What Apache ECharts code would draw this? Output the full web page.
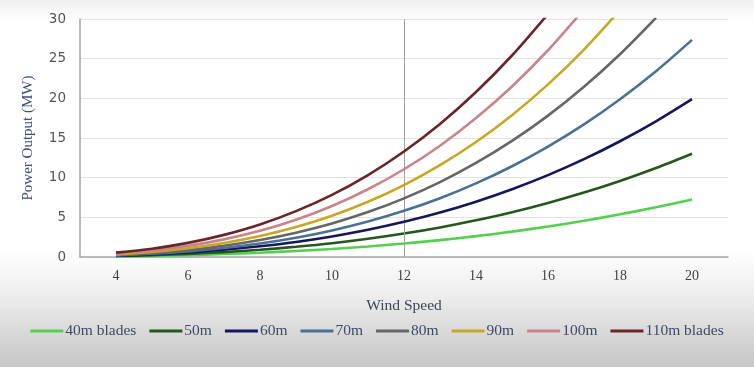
<!DOCTYPE html>
<html>
<head>
<meta charset="utf-8">
<script src="https://cdn.jsdelivr.net/npm/echarts@6/dist/echarts.min.js"></script>
<style>
html,body{margin:0;padding:0;background:#fff;}
#chart{width:754px;height:367px;}
</style>
</head>
<body>
<div id="chart"></div>
<script>
// Wind speed (x) values
const windSpeeds = [4,5,6,7,8,9,10,11,12,13,14,15,16,17,18,19,20];
const xTickLabels = ['4','6','8','10','12','14','16','18','20'];
const yTickLabels = ['0','5','10','15','20','25','30'];
const seriesNames = ['40m blades','50m','60m','70m','80m','90m','100m','110m blades'];

// Power output (MW)
const p40 = [0.08,0.14,0.24,0.37,0.54,0.75,1.01,1.33,1.70,2.13,2.63,3.20,3.85,4.57,5.38,6.27,7.25];
const p50 = [0.12,0.23,0.40,0.62,0.91,1.29,1.74,2.30,2.96,3.73,4.63,5.65,6.82,8.13,9.59,11.22,13.02];
const p60 = [0.18,0.34,0.58,0.91,1.35,1.90,2.59,3.43,4.43,5.60,6.97,8.54,10.32,12.33,14.59,17.10,19.89];
const p70 = [0.21,0.41,0.71,1.14,1.70,2.43,3.35,4.47,5.82,7.41,9.28,11.44,13.92,16.72,19.89,23.42,27.37];
const p80 = [0.26,0.51,0.89,1.42,2.14,3.07,4.23,5.66,7.39,9.44,11.85,14.63,17.82,21.46,25.56,30.15];
const p90 = [0.32,0.63,1.10,1.76,2.64,3.78,5.21,6.97,9.07,11.57,14.49,17.87,21.76,26.15,31.13];
const p100 = [0.42,0.81,1.40,2.22,3.30,4.69,6.43,8.54,11.06,14.03,17.52,21.50,26.06,31.23];
const p110 = [0.55,1.05,1.78,2.79,4.10,5.78,7.83,10.33,13.30,16.77,20.80,25.40,30.63];
const markX = 12;

const colors = ['#55cf4f','#23581c','#15165c','#4a7195','#666666','#c8a722','#c9848b','#6b2427'];
const allData = [p40,p50,p60,p70,p80,p90,p100,p110];

const serif = '"Liberation Serif", "DejaVu Serif", serif';
const sans = '"DejaVu Sans", "Noto Sans", sans-serif';

const series = allData.map((arr, i) => {
  const s = {
    name: seriesNames[i],
    type: 'line',
    data: arr.map((v, j) => [windSpeeds[j], v]),
    smooth: 0.3,
    showSymbol: false,
    symbol: 'none',
    clip: true,
    lineStyle: {color: colors[i], width: 2.6},
    itemStyle: {color: colors[i]},
    z: 3 + i
  };
  if (i === 0) {
    s.markLine = {
      silent: true,
      symbol: 'none',
      label: {show: false},
      lineStyle: {color: '#a0a0a0', width: 1, type: 'solid'},
      data: [{xAxis: markX}]
    };
  }
  return s;
});

const chart = echarts.init(document.getElementById('chart'));
chart.setOption({
  animation: false,
  backgroundColor: {
    type: 'linear', x: 0, y: 0, x2: 0, y2: 1,
    colorStops: [
      {offset: 0, color: '#efefef'},
      {offset: 0.03, color: '#f8f8f8'},
      {offset: 0.06, color: '#ffffff'},
      {offset: 0.68, color: '#ffffff'},
      {offset: 0.8, color: '#eeeeee'},
      {offset: 1, color: '#c6c6c6'}
    ]
  },
  color: colors,
  grid: {left: 80, right: 26, top: 19, bottom: 110},
  legend: {
    data: seriesNames,
    left: 'center',
    top: 318,
    icon: 'rect',
    itemWidth: 33,
    itemHeight: 3,
    itemGap: 13,
    textStyle: {fontFamily: serif, fontSize: 15.5, color: '#3f4a66', padding: [0,0,0,-3]}
  },
  xAxis: {
    type: 'value',
    min: 3, max: 21, interval: 1,
    name: 'Wind Speed',
    nameLocation: 'middle',
    nameGap: 41,
    nameTextStyle: {fontFamily: serif, fontSize: 15.5, color: '#3f4756'},
    axisLine: {show: true, lineStyle: {color: '#a6a6a6', width: 1.5}},
    axisTick: {show: false},
    splitLine: {show: false},
    axisLabel: {
      margin: 12,
      fontFamily: serif, fontSize: 14, color: '#3f3f3f',
      formatter: function (v) {
        const s = String(v);
        return xTickLabels.indexOf(s) >= 0 ? s : '';
      }
    }
  },
  yAxis: {
    type: 'value',
    min: 0, max: 30, interval: 5,
    name: 'Power Output (MW)',
    nameLocation: 'middle',
    nameGap: 44,
    nameRotate: 90,
    nameTextStyle: {fontFamily: serif, fontSize: 15, color: '#3c4f7c'},
    axisLine: {show: true, lineStyle: {color: '#a6a6a6', width: 1.5}},
    axisTick: {show: false},
    splitLine: {show: true, lineStyle: {color: '#e3e3e3', width: 1}},
    axisLabel: {
      margin: 14,
      fontFamily: sans, fontSize: 13.5, color: '#555555',
      formatter: function (v) {
        const s = String(v);
        return yTickLabels.indexOf(s) >= 0 ? s : '';
      }
    }
  },
  series: series
});
</script>
</body>
</html>
